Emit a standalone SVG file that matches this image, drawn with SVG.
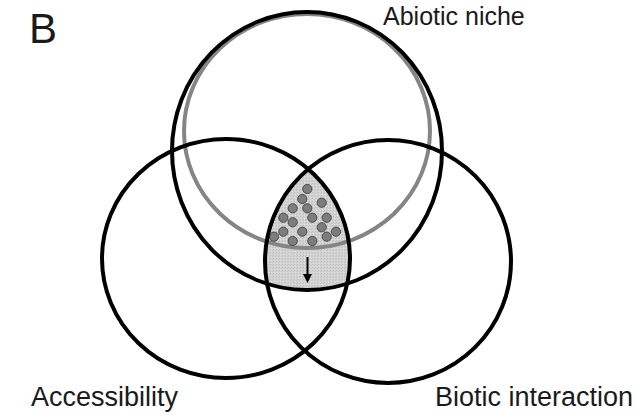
<svg xmlns="http://www.w3.org/2000/svg" width="636" height="416" viewBox="0 0 636 416">
  <style>
    .ring { fill: none; stroke: #000; stroke-width: 4; }
    .gray { fill: none; stroke: #858585; stroke-width: 4; }
    .lbl { font-family: "Liberation Sans", Arial, sans-serif; fill: #1a1a1a; }
    .dot { fill: #7d7d7d; stroke: #4a4a4a; stroke-width: 1; }
  </style>
  <defs>
    <clipPath id="clipTop">
      <ellipse cx="307" cy="151" rx="135" ry="139"/>
    </clipPath>
    <clipPath id="clipTopLeft">
      <ellipse cx="226" cy="258.5" rx="124" ry="119.5" clip-path="url(#clipTop)"/>
    </clipPath>
    <pattern id="grain" width="3" height="3" patternUnits="userSpaceOnUse">
      <rect width="3" height="3" fill="#d3d3d3"/>
      <rect x="0" y="0" width="1" height="1" fill="#bdbdbd"/>
      <rect x="2" y="1" width="1" height="1" fill="#c4c4c4"/>
      <rect x="1" y="2" width="1" height="1" fill="#e0e0e0"/>
    </pattern>
  </defs>
  <rect width="636" height="416" fill="#fff"/>

  <text class="lbl" x="29" y="43" font-size="42">B</text>

  <g id="overlap">
    <ellipse cx="388" cy="261.5" rx="123" ry="121.5" fill="url(#grain)" clip-path="url(#clipTopLeft)"/>
  </g>

  <g id="gray-niche">
    <ellipse class="gray" cx="307" cy="131" rx="123" ry="117"/>
  </g>

  <g id="occurrences">
    <circle class="dot" cx="307.3" cy="189" r="4.6"/>
    <circle class="dot" cx="302.3" cy="199" r="4.6"/>
    <circle class="dot" cx="321.7" cy="202.7" r="4.6"/>
    <circle class="dot" cx="292.7" cy="208.3" r="4.6"/>
    <circle class="dot" cx="307.3" cy="208.3" r="4.6"/>
    <circle class="dot" cx="283.3" cy="217.7" r="4.6"/>
    <circle class="dot" cx="312.3" cy="217.7" r="4.6"/>
    <circle class="dot" cx="326.7" cy="217.7" r="4.6"/>
    <circle class="dot" cx="292.7" cy="222.3" r="4.6"/>
    <circle class="dot" cx="321.7" cy="227.3" r="4.6"/>
    <circle class="dot" cx="274" cy="236.7" r="4.6"/>
    <circle class="dot" cx="283.3" cy="231.7" r="4.6"/>
    <circle class="dot" cx="302.3" cy="231.7" r="4.6"/>
    <circle class="dot" cx="326.7" cy="236.7" r="4.6"/>
    <circle class="dot" cx="336" cy="231.7" r="4.6"/>
    <circle class="dot" cx="292.7" cy="241" r="4.6"/>
    <circle class="dot" cx="312.3" cy="241" r="4.6"/>
  </g>

  <g id="connectors">
    <line x1="307.5" y1="257" x2="307.5" y2="276" stroke="#000" stroke-width="2"/>
    <polygon points="303,274 312,274 307.5,283" fill="#000"/>
  </g>

  <g id="abiotic-niche">
    <ellipse class="ring" cx="307" cy="151" rx="135" ry="139"/>
    <text class="lbl" x="383" y="25" font-size="25">Abiotic niche</text>
  </g>

  <g id="accessibility">
    <ellipse class="ring" cx="226" cy="258.5" rx="124" ry="119.5"/>
    <text class="lbl" x="31" y="406" font-size="27">Accessibility</text>
  </g>

  <g id="biotic-interaction">
    <ellipse class="ring" cx="388" cy="261.5" rx="123" ry="121.5"/>
    <text class="lbl" x="435" y="406" font-size="27">Biotic interaction</text>
  </g>
</svg>
